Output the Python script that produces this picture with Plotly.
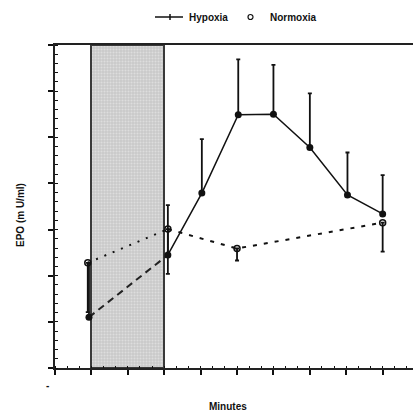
import plotly.graph_objects as go

# EPO time course, hypoxia vs normoxia
hyp_min = [-2, 63, 91, 121, 150, 180, 211, 240]
hyp_epo = [11.0, 24.5, 37.9, 54.9, 55.0, 47.8, 37.5, 33.4]
hyp_sd = [11.8, 10.8, 11.7, 12.0, 10.7, 11.7, 9.2, 8.4]

nor_min = [-3, 63, 120, 240]
nor_epo = [22.8, 30.1, 25.9, 31.5]
nor_sd = [10.7, 9.7, 2.6, 6.3]

# hypoxic exposure window (minutes)
window = [0, 60]

X_RANGE = [-30, 265]
Y_RANGE = [0, 70]

INK = "#111111"
FONT = "Liberation Sans Narrow, Liberation Sans, Arial"

fig = go.Figure()

# shaded exposure window drawn as a patterned bar
fig.add_trace(go.Bar(
    x=[(window[0] + window[1]) / 2], y=[Y_RANGE[1]], width=[window[1] - window[0]],
    base=[0],
    marker=dict(color="#cfcfcf", line=dict(color="#3a3a3a", width=2),
                pattern=dict(shape=".", fgcolor="#f2f2f2", bgcolor="#c9c9c9",
                             size=3, solidity=0.35)),
    showlegend=False, hoverinfo="skip",
))

# normoxia connecting lines
fig.add_trace(go.Scatter(x=nor_min[:2], y=nor_epo[:2], mode="lines",
                         line=dict(color=INK, width=2, dash="2px,7px"),
                         showlegend=False, hoverinfo="skip"))
fig.add_trace(go.Scatter(x=nor_min[1:], y=nor_epo[1:], mode="lines",
                         line=dict(color=INK, width=2, dash="4px,7px"),
                         showlegend=False, hoverinfo="skip"))

# hypoxia connecting lines
fig.add_trace(go.Scatter(x=hyp_min[:2], y=hyp_epo[:2], mode="lines",
                         line=dict(color="#222222", width=2, dash="7px,5px"),
                         showlegend=False, hoverinfo="skip"))
fig.add_trace(go.Scatter(x=hyp_min[1:], y=hyp_epo[1:], mode="lines",
                         line=dict(color=INK, width=1.5),
                         showlegend=False, hoverinfo="skip"))

# normoxia points, error bars downward
fig.add_trace(go.Scatter(
    x=nor_min, y=nor_epo, mode="markers",
    marker=dict(symbol="circle-open", size=6, color=INK, line=dict(width=1.5)),
    error_y=dict(type="data", symmetric=False, array=[0] * len(nor_sd),
                 arrayminus=nor_sd, color=INK, thickness=1.8, width=2),
    showlegend=False, hoverinfo="skip",
))

# hypoxia points, error bars upward
fig.add_trace(go.Scatter(
    x=hyp_min, y=hyp_epo, mode="markers",
    marker=dict(symbol="circle", size=7, color=INK),
    error_y=dict(type="data", symmetric=False, array=hyp_sd,
                 arrayminus=[0] * len(hyp_sd), color=INK, thickness=1.8, width=2),
    showlegend=False, hoverinfo="skip",
))

L, T, B, W, H = 55, 45, 46, 413, 414
PW, PH = W - L, H - T - B


def px(x):
    return (x - L) / PW


def py(y):
    return (H - B - y) / PH


shapes = [
    # legend sample for hypoxia: line with a cross tick
    dict(type="line", xref="paper", yref="paper", x0=px(155), x1=px(183),
         y0=py(17), y1=py(17), line=dict(color=INK, width=1.5)),
    dict(type="line", xref="paper", yref="paper", x0=px(170), x1=px(170),
         y0=py(14), y1=py(20), line=dict(color=INK, width=1.5)),
    # legend sample for normoxia
    dict(type="circle", xref="paper", yref="paper", x0=px(248), x1=px(253),
         y0=py(14.5), y1=py(19.5), line=dict(color=INK, width=1.2)),
]

annotations = [
    dict(text="<b>Hypoxia</b>", xref="paper", yref="paper", x=px(187), y=py(17),
         xanchor="left", yanchor="middle", showarrow=False,
         font=dict(family=FONT, size=10, color=INK)),
    dict(text="<b>Normoxia</b>", xref="paper", yref="paper", x=px(268), y=py(17),
         xanchor="left", yanchor="middle", showarrow=False,
         font=dict(family=FONT, size=10, color=INK)),
    dict(text="<b>EPO (m U/ml)</b>", xref="paper", yref="paper", x=px(20), y=py(215),
         xanchor="center", yanchor="middle", textangle=-90, showarrow=False,
         font=dict(family=FONT, size=10, color=INK)),
    dict(text="<b>Minutes</b>", xref="paper", yref="paper", x=px(228), y=py(406),
         xanchor="center", yanchor="middle", showarrow=False,
         font=dict(family=FONT, size=10, color=INK)),
    dict(text="<b>-</b>", xref="paper", yref="paper", x=px(47), y=py(385),
         xanchor="center", yanchor="middle", showarrow=False,
         font=dict(family=FONT, size=10, color=INK)),
]

fig.update_layout(
    width=W, height=H,
    margin=dict(l=L, r=0, t=T, b=B),
    paper_bgcolor="white", plot_bgcolor="white",
    showlegend=False, bargap=0,
    shapes=shapes, annotations=annotations,
    xaxis=dict(range=X_RANGE, tick0=-30, dtick=30, showticklabels=False,
               showgrid=False, zeroline=False,
               showline=True, linecolor="#222222", linewidth=2, mirror=True,
               ticks="outside", ticklen=5, tickwidth=1.5, tickcolor=INK,
               minor=dict(dtick=10, ticks="inside", ticklen=2, tickwidth=1.2,
                          tickcolor=INK, showgrid=False)),
    yaxis=dict(range=Y_RANGE, tick0=0, dtick=10, showticklabels=False,
               showgrid=False, zeroline=False,
               showline=True, linecolor="#222222", linewidth=2,
               ticks="outside", ticklen=5, tickwidth=1.5, tickcolor=INK,
               minor=dict(dtick=2, ticks="inside", ticklen=3, tickwidth=1.2,
                          tickcolor=INK, showgrid=False)),
)

fig.write_html("out.html")
